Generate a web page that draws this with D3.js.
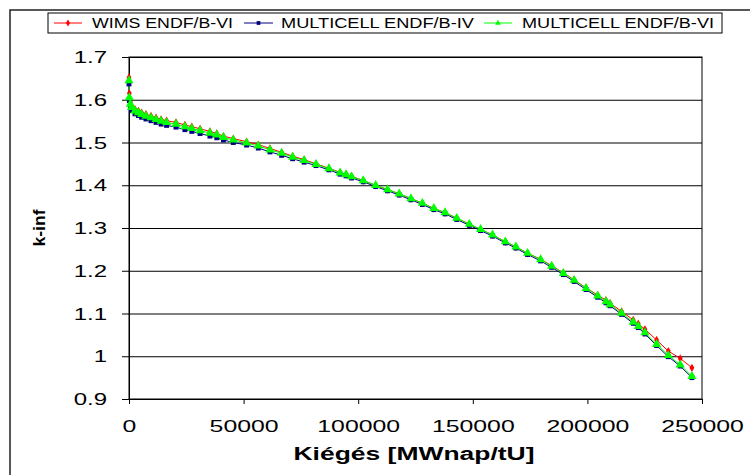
<!DOCTYPE html>
<html>
<head>
<meta charset="utf-8">
<script src="https://cdn.jsdelivr.net/npm/d3@7"></script>
<style>
  body { margin: 0; background: #fff; }
  svg { display: block; font-family: 'Liberation Sans', Arial, sans-serif; }
</style>
</head>
<body>
<svg id="chart" width="750" height="475"></svg>
<script>
// burnup steps (MWnap/tU)
const burnup = [0, 150, 600, 1100, 2600, 4100, 5500, 7400, 9600, 11800, 14000, 16400, 20500, 24400, 27400,
  31000, 35300, 38300, 41200, 45500, 51300, 56400, 61500, 66600, 71400, 76400, 81600, 87200, 92100, 94700,
  97100, 102200, 107600, 112800, 117900, 123000, 128000, 133000, 137900, 143000, 148500, 153400, 158600,
  164200, 168800, 173900, 179600, 184400, 189500, 194200, 199400, 204500, 208100, 209900, 214900, 220000,
  222200, 225100, 230200, 235300, 240500, 245600]

const wims_b6 = [1.652, 1.615, 1.595, 1.586, 1.578, 1.574, 1.570, 1.566, 1.562, 1.558, 1.554, 1.551, 1.547,
  1.541, 1.537, 1.532, 1.526, 1.521, 1.515, 1.509, 1.502, 1.495, 1.486, 1.477, 1.468, 1.460, 1.450, 1.440,
  1.430, 1.426, 1.421, 1.411, 1.400, 1.390, 1.380, 1.369, 1.358, 1.346, 1.336, 1.323, 1.309, 1.297, 1.284,
  1.268, 1.256, 1.241, 1.227, 1.212, 1.195, 1.179, 1.160, 1.143, 1.131, 1.124, 1.105, 1.085, 1.076, 1.063,
  1.038, 1.012, 0.995, 0.973]

const multi_b4 = [1.637, 1.598, 1.585, 1.575, 1.567, 1.563, 1.559, 1.555, 1.551, 1.547, 1.543, 1.540, 1.536,
  1.530, 1.526, 1.521, 1.515, 1.511, 1.506, 1.500, 1.494, 1.487, 1.478, 1.470, 1.462, 1.454, 1.446, 1.436,
  1.426, 1.422, 1.417, 1.408, 1.397, 1.387, 1.377, 1.366, 1.355, 1.343, 1.333, 1.320, 1.306, 1.294, 1.281,
  1.265, 1.253, 1.238, 1.223, 1.208, 1.191, 1.175, 1.156, 1.138, 1.125, 1.118, 1.098, 1.077, 1.067, 1.052,
  1.025, 0.999, 0.977, 0.950]

const multi_b6 = [1.645, 1.605, 1.590, 1.582, 1.574, 1.570, 1.566, 1.562, 1.558, 1.554, 1.550, 1.547, 1.543,
  1.537, 1.533, 1.528, 1.522, 1.518, 1.512, 1.506, 1.499, 1.492, 1.483, 1.475, 1.466, 1.458, 1.449, 1.439,
  1.429, 1.425, 1.420, 1.411, 1.400, 1.390, 1.380, 1.369, 1.358, 1.346, 1.336, 1.323, 1.309, 1.297, 1.284,
  1.268, 1.256, 1.241, 1.226, 1.211, 1.194, 1.178, 1.159, 1.141, 1.128, 1.121, 1.101, 1.080, 1.070, 1.055,
  1.028, 1.002, 0.980, 0.953]

const series_names = ['WIMS ENDF/B-VI', 'MULTICELL ENDF/B-IV', 'MULTICELL ENDF/B-VI']
const x_ticks = [0, 50000, 100000, 150000, 200000, 250000]
const y_ticks = [0.9, 1.0, 1.1, 1.2, 1.3, 1.4, 1.5, 1.6, 1.7]
const x_title = 'Kiégés [MWnap/tU]'
const y_title = 'k-inf'

const svg = d3.select('#chart')
const plot = { left: 129, right: 702, top: 57, bottom: 399 }

const x = d3.scaleLinear().domain([0, 250000]).range([plot.left, plot.right])
const y = d3.scaleLinear().domain([0.9, 1.7]).range([plot.bottom, plot.top])

// stretch text horizontally, the original picture is wider than normal Arial
function stretch(sel, k) {
  sel.each(function() {
    let w = this.getComputedTextLength()
    d3.select(this).attr('textLength', w * k).attr('lengthAdjust', 'spacingAndGlyphs')
  })
}

// outer frame
svg.append('rect')
  .attr('x', 10).attr('y', 10).attr('width', 760).attr('height', 480)
  .attr('fill', '#fff').attr('stroke', '#222').attr('stroke-width', 1.5)

// gridlines
svg.append('g')
  .attr('transform', `translate(${plot.left},0)`)
  .call(d3.axisLeft(y).tickValues(y_ticks).tickSize(-(plot.right - plot.left)).tickFormat(''))
  .call(g => g.select('.domain').remove())
  .call(g => g.selectAll('line').attr('stroke', '#000').attr('stroke-width', 1))

// y axis
let yAxis = svg.append('g')
  .attr('transform', `translate(${plot.left},0)`)
  .call(d3.axisLeft(y).tickValues(y_ticks).tickSize(7).tickPadding(15)
    .tickFormat(d => String(+d.toFixed(1))))
yAxis.select('.domain').attr('stroke', '#000')
yAxis.selectAll('line').attr('stroke', '#000')
yAxis.selectAll('text').attr('font-size', 16).attr('fill', '#000')
  .attr('font-family', "'Liberation Sans', Arial, sans-serif").attr('dy', '0.35em')
stretch(yAxis.selectAll('text'), 1.5)

// x axis
let xAxis = svg.append('g')
  .attr('transform', `translate(0,${plot.bottom})`)
  .call(d3.axisBottom(x).tickValues(x_ticks).tickSize(5).tickPadding(17).tickFormat(d3.format('d')))
xAxis.select('.domain').attr('stroke', '#000')
xAxis.selectAll('line').attr('stroke', '#000')
xAxis.selectAll('text').attr('font-size', 16).attr('fill', '#000')
  .attr('font-family', "'Liberation Sans', Arial, sans-serif").attr('dy', '0.71em')
stretch(xAxis.selectAll('text'), 1.55)

// plot frame
svg.append('rect')
  .attr('x', plot.left).attr('y', plot.top)
  .attr('width', plot.right - plot.left).attr('height', plot.bottom - plot.top)
  .attr('fill', 'none').attr('stroke', '#000').attr('stroke-width', 1)

// axis titles
let xt = svg.append('text')
  .attr('x', 414).attr('y', 460)
  .attr('text-anchor', 'middle').attr('font-weight', 'bold').attr('font-size', 18)
  .text(x_title)
stretch(xt, 1.47)

svg.append('text')
  .attr('transform', 'translate(45,228) rotate(-90)')
  .attr('text-anchor', 'middle').attr('font-weight', 'bold').attr('font-size', 17)
  .attr('textLength', 37).attr('lengthAdjust', 'spacingAndGlyphs')
  .text(y_title)

// series
const series = [
  { name: series_names[0], values: wims_b6, color: '#ff0000', marker: 'circle' },
  { name: series_names[1], values: multi_b4, color: '#000080', marker: 'square' },
  { name: series_names[2], values: multi_b6, color: '#00ff00', marker: 'triangle' }
]

const symbols = {
  circle: d3.symbol().type(d3.symbolDiamond).size(20),
  square: d3.symbol().type(d3.symbolSquare).size(24),
  triangle: d3.symbol().type(d3.symbolTriangle).size(36)
}

const line = d3.line().x(d => x(d[0])).y(d => y(d[1]))

series.forEach(s => {
  let pts = burnup.map((b, i) => [b, s.values[i]])
  svg.append('path')
    .datum(pts)
    .attr('fill', 'none').attr('stroke', s.color).attr('stroke-width', 1)
    .attr('d', line)
})

series.forEach(s => {
  let pts = burnup.map((b, i) => [b, s.values[i]])
  svg.append('g').selectAll('path')
    .data(pts)
    .join('path')
    .attr('transform', d => `translate(${x(d[0])},${y(d[1])})`)
    .attr('d', symbols[s.marker]())
    .attr('fill', s.color)
})

// legend
const legend_items = [
  { line0: 54, line1: 82, text_x: 92, text_w: 141 },
  { line0: 244, line1: 273, text_x: 281, text_w: 193 },
  { line0: 484, line1: 512, text_x: 522, text_w: 192 }
]

let lg = svg.append('g')
lg.append('rect')
  .attr('x', 48).attr('y', 13).attr('width', 674).attr('height', 20)
  .attr('fill', '#fff').attr('stroke', '#000').attr('stroke-width', 1)

series.forEach((s, i) => {
  let it = legend_items[i]
  lg.append('line')
    .attr('x1', it.line0).attr('x2', it.line1).attr('y1', 23).attr('y2', 23)
    .attr('stroke', s.color).attr('stroke-width', 1)
  lg.append('path')
    .attr('transform', `translate(${(it.line0 + it.line1) / 2},23)`)
    .attr('d', d3.symbol().type(s.marker == 'triangle' ? d3.symbolTriangle :
      s.marker == 'square' ? d3.symbolSquare : d3.symbolDiamond).size(14)())
    .attr('fill', s.color)
  lg.append('text')
    .attr('x', it.text_x).attr('y', 28)
    .attr('font-size', 14)
    .attr('textLength', it.text_w).attr('lengthAdjust', 'spacingAndGlyphs')
    .text(s.name)
})
</script>
</body>
</html>
